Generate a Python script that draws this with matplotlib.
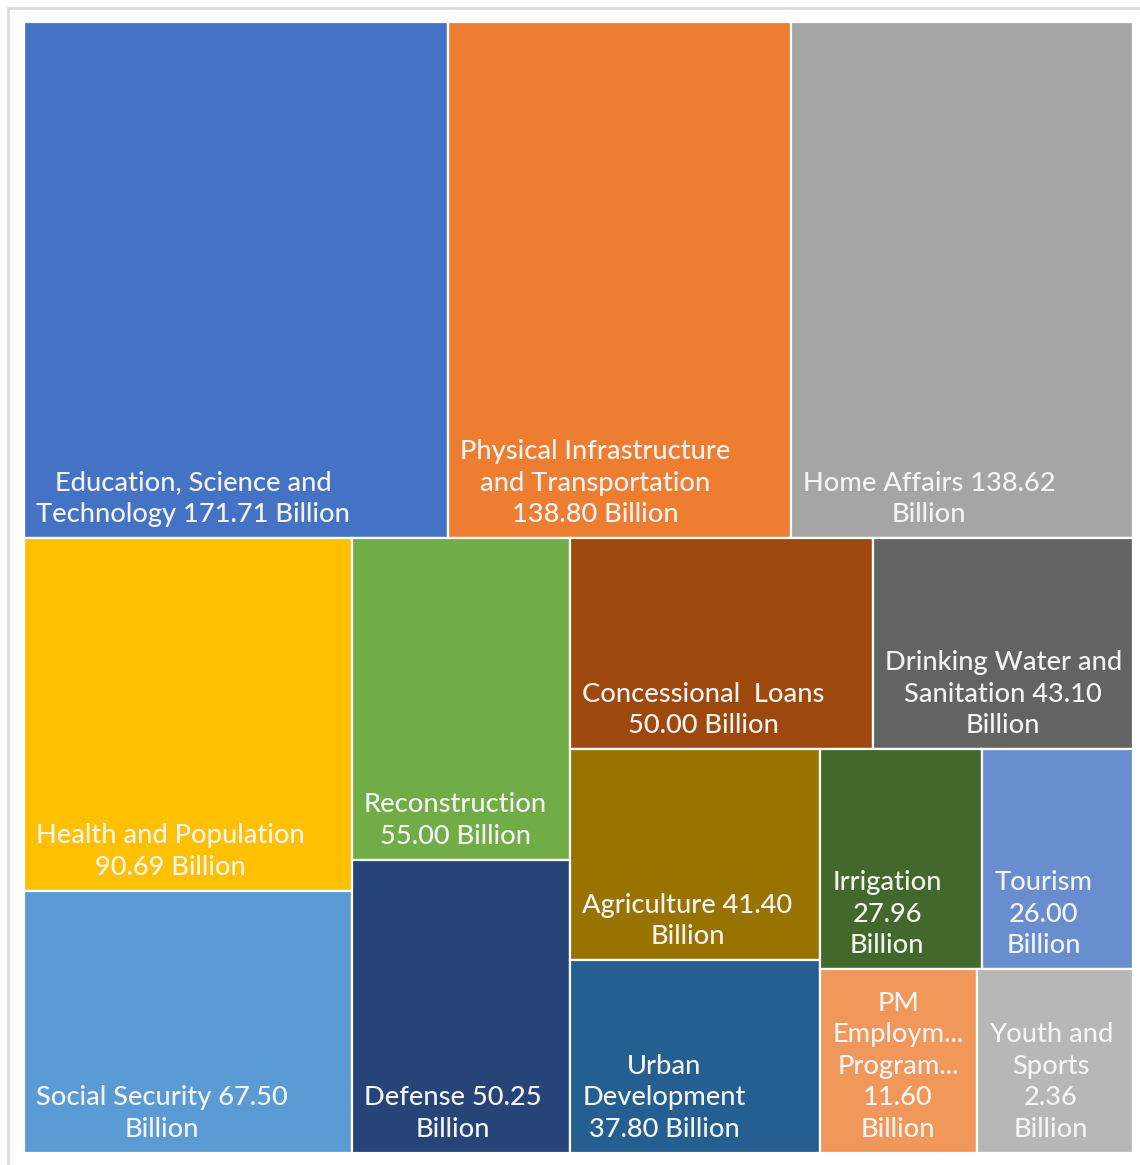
import matplotlib
matplotlib.use("Agg")
import matplotlib.pyplot as plt
from matplotlib.patches import Rectangle

# ---------------- data ----------------
categories = [
    "Education, Science and\nTechnology",
    "Physical Infrastructure\nand Transportation",
    "Home Affairs",
    "Health and Population",
    "Social Security",
    "Reconstruction",
    "Defense",
    "Concessional  Loans",
    "Drinking Water and\nSanitation",
    "Agriculture",
    "Urban\nDevelopment",
    "Irrigation",
    "Tourism",
    "PM\nEmploym...\nProgram...",
    "Youth and\nSports",
]
values = [171.71, 138.80, 138.62, 90.69, 67.50, 55.00, 50.25, 50.00,
          43.10, 41.40, 37.80, 27.96, 26.00, 11.60, 2.36]
# separator before the value and before "Billion" (label wrapping as shown)
sep_value = [" ", "\n", " ", "\n", " ", "\n", " ", "\n", " ", " ", "\n", "\n", "\n", "\n", "\n"]
sep_unit = [" ", " ", "\n", " ", "\n", " ", "\n", " ", "\n", "\n", " ", "\n", "\n", "\n", "\n"]
colors = ["#4472C4", "#ED7D31", "#A5A5A5", "#FFC000", "#5B9BD5", "#70AD47",
          "#264478", "#9E480E", "#636363", "#997300", "#255E91", "#43682B",
          "#698ED0", "#F1975A", "#B7B7B7"]

MIN_TILE = 22.5  # smallest tile size used by the layout (value units)

# ---------------- squarified layout ----------------
def worst(row, side):
    s = sum(row)
    return max(max(side * side * r / (s * s), (s * s) / (side * side * r)) for r in row)


def squarify(sizes, x, y, w, h):
    total = sum(sizes)
    areas = [s * w * h / total for s in sizes]
    rects = []
    i = 0
    while i < len(areas):
        side = min(w, h)
        row = [areas[i]]
        j = i + 1
        while j < len(areas) and worst(row + [areas[j]], side) <= worst(row, side):
            row.append(areas[j])
            j += 1
        s = sum(row)
        if w <= h:  # row across the top
            rh = s / w
            cx = x
            for a in row:
                rw = a / rh
                rects.append((cx, y, rw, rh))
                cx += rw
            y += rh
            h -= rh
        else:  # column on the left
            cw = s / h
            cy = y
            for a in row:
                ch = a / cw
                rects.append((x, cy, cw, ch))
                cy += ch
            x += cw
            w -= cw
        i = j
    return rects

FIG_W, FIG_H = 1140, 1165
L, T, R, B = 24, 22, 1133, 1153
W, H = R - L, B - T

fig = plt.figure(figsize=(FIG_W / 100, FIG_H / 100), dpi=100)
fig.patch.set_facecolor("white")

# outer chart frame (cropped at right/bottom)
fig.patches.append(Rectangle((8 / FIG_W, -0.05), 1.2, (FIG_H - 7.5) / FIG_H + 0.05,
                             transform=fig.transFigure, fill=False,
                             edgecolor="#D9D9D9", linewidth=1.8, zorder=0))

ax = fig.add_axes([L / FIG_W, (FIG_H - B) / FIG_H, W / FIG_W, H / FIG_H])
ax.set_xlim(0, W)
ax.set_ylim(H, 0)
ax.axis("off")

sizes = [max(v, MIN_TILE) for v in values]
rects = squarify(sizes, 0, 0, W, H)

for (x, y, w, h), cat, v, sv, su, c in zip(rects, categories, values, sep_value, sep_unit, colors):
    ax.add_patch(Rectangle((x, y), w, h, facecolor=c, edgecolor="white", linewidth=1.6))
    label = f"{cat}{sv}{v:.2f}{su}Billion"
    ax.text(x + 12, y + h - 11, label, ha="left", va="bottom", multialignment="center",
            color="#F4F4F4", fontsize=19.6, family=["Lato", "DejaVu Sans"],
            fontweight="medium", linespacing=1.33)

fig.savefig("out.png", dpi=100, facecolor="white")
